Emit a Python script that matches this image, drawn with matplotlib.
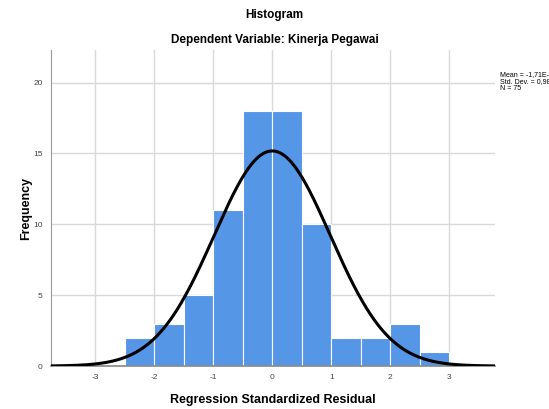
import numpy as np
import matplotlib.pyplot as plt

# histogram of standardized residuals (bin width 0.5)
bin_edges = [-2.5, -2.0, -1.5, -1.0, -0.5, 0.0, 0.5, 1.0, 1.5, 2.0, 2.5, 3.0]
counts = [2, 3, 5, 11, 18, 18, 10, 2, 2, 3, 1]
mean_val = -1.71e-15
std_val = 0.986
n_obs = 75

plt.rcParams['font.family'] = ['Liberation Sans', 'DejaVu Sans']
plt.rcParams['axes.unicode_minus'] = False

fig = plt.figure(figsize=(5.49, 4.09), dpi=100)
ax = fig.add_axes([0.093, 0.105, 0.809, 0.773])

lefts = bin_edges[:-1]
widths = np.diff(bin_edges)
ax.bar(lefts, counts, width=widths, align='edge', color='#5596e6',
       edgecolor='white', linewidth=0.8, zorder=2)

# normal curve scaled to counts
xs = np.linspace(-3.75, 3.78, 400)
bw = widths[0]
ys = n_obs * bw / (std_val * np.sqrt(2 * np.pi)) * np.exp(-0.5 * ((xs - mean_val) / std_val) ** 2)
ax.plot(xs, ys, color='black', linewidth=2.2, zorder=3)

ax.set_xlim(-3.75, 3.78)
ax.set_ylim(0, 22.3)
ax.set_xticks([-3, -2, -1, 0, 1, 2, 3])
ax.set_yticks([0, 5, 10, 15, 20])
ax.grid(True, color='#d9d9d9', linewidth=1.0, zorder=0)
ax.set_axisbelow(True)
ax.tick_params(length=0, labelsize=6, colors='#444444', pad=6)

for s in ['top', 'right']:
    ax.spines[s].set_visible(False)
ax.spines['left'].set_color('#999999')
ax.spines['bottom'].set_color('#888888')
ax.spines['bottom'].set_linewidth(1.2)

ax.set_xlabel('Regression Standardized Residual', fontsize=9, fontweight='bold', labelpad=9)
ax.set_ylabel('Frequency', fontsize=9, fontweight='bold', labelpad=1)

fig.text(0.5, 0.963, 'Histogram', ha='center', va='center', fontsize=8.5, fontweight='bold')
fig.text(0.5, 0.902, 'Dependent Variable: Kinerja Pegawai', ha='center', va='center',
         fontsize=8.5, fontweight='bold')

fig.text(0.911, 0.826, 'Mean = -1,71E-15\nStd. Dev. = 0,986\nN = 75', ha='left', va='top',
         fontsize=5, linespacing=0.95)

fig.savefig('out.png', dpi=100)
